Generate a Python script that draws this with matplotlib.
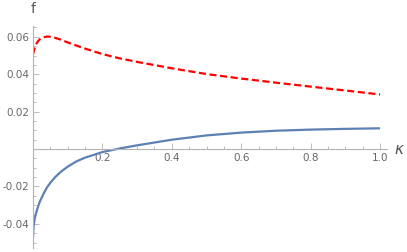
import matplotlib
matplotlib.use('Agg')
from matplotlib.pyplot import figure
from matplotlib.ticker import MultipleLocator, FuncFormatter

# values
kappa_red = [0.0, 0.0025, 0.005, 0.01, 0.015, 0.02, 0.03, 0.043, 0.06, 0.08, 0.1, 0.15,
             0.2, 0.25, 0.3, 0.4, 0.5, 0.6, 0.7, 0.8, 0.9, 1.0]
f_red = [0.0506, 0.0525, 0.0541, 0.0564, 0.0578, 0.0588, 0.0598, 0.0602, 0.0597, 0.0585,
         0.0570, 0.0537, 0.0508, 0.0485, 0.0466, 0.0432, 0.0401, 0.0377, 0.0355, 0.0334,
         0.0313, 0.0292]

kappa_blue = [0.0, 0.001, 0.002, 0.0035, 0.005, 0.0075, 0.01, 0.015, 0.02, 0.03, 0.04,
              0.05, 0.065, 0.08, 0.1, 0.125, 0.15, 0.2, 0.25, 0.3, 0.35, 0.4, 0.5, 0.6,
              0.7, 0.8, 0.9, 1.0]
f_blue = [-0.0476, -0.0435, -0.0412, -0.0390, -0.0372, -0.0352, -0.0335, -0.0305, -0.0280,
          -0.0240, -0.0206, -0.0180, -0.0148, -0.0122, -0.0094, -0.0066, -0.0046, -0.0016,
          0.0003, 0.0020, 0.0035, 0.0050, 0.0073, 0.0088, 0.0098, 0.0104, 0.0108, 0.0111]

W, H = 407, 252
fig = figure(figsize=(W / 100, H / 100), dpi=100)
ax = fig.add_axes([33 / W, 4 / H, 354 / W, 222 / H])

ax.plot(kappa_blue, f_blue, color='#5e81b5', lw=1.6, solid_capstyle='butt',
        solid_joinstyle='round')
ax.plot(kappa_red, f_red, color='#ff0000', lw=1.6, linestyle=(0, (3.2, 1.6)),
        dash_joinstyle='round')

ax.set_xlim(0, 1.02)
ax.set_ylim(-0.0529, 0.0658)

for side in ('top', 'right'):
    ax.spines[side].set_visible(False)
for side in ('left', 'bottom'):
    ax.spines[side].set_position(('data', 0))
    ax.spines[side].set_color('#b3b3b3')
    ax.spines[side].set_linewidth(0.8)

ax.xaxis.set_major_locator(MultipleLocator(0.2))
ax.xaxis.set_minor_locator(MultipleLocator(0.05))
ax.yaxis.set_major_locator(MultipleLocator(0.02))
ax.yaxis.set_minor_locator(MultipleLocator(0.005))

ax.xaxis.set_major_formatter(FuncFormatter(
    lambda v, p: '' if abs(v) < 1e-9 else '{:.1f}'.format(v)))
ax.yaxis.set_major_formatter(FuncFormatter(
    lambda v, p: '' if abs(v) < 1e-9 else '{:.2f}'.format(v)))

ax.tick_params(which='both', direction='in', color='#b3b3b3', labelcolor='#666666',
               labelsize=7.5, width=0.6)
ax.tick_params(which='major', length=4, pad=2.5)
ax.tick_params(which='minor', length=2)

ax.text(0, 1.045, 'f', transform=ax.transAxes, ha='center', va='bottom',
        fontsize=10, color='#555555')
ax.text(1.034, 0.0, '\u03ba', transform=ax.get_yaxis_transform(), ha='center', va='center',
        fontsize=11, color='#555555', style='italic')

fig.savefig('out.png', dpi=100)
